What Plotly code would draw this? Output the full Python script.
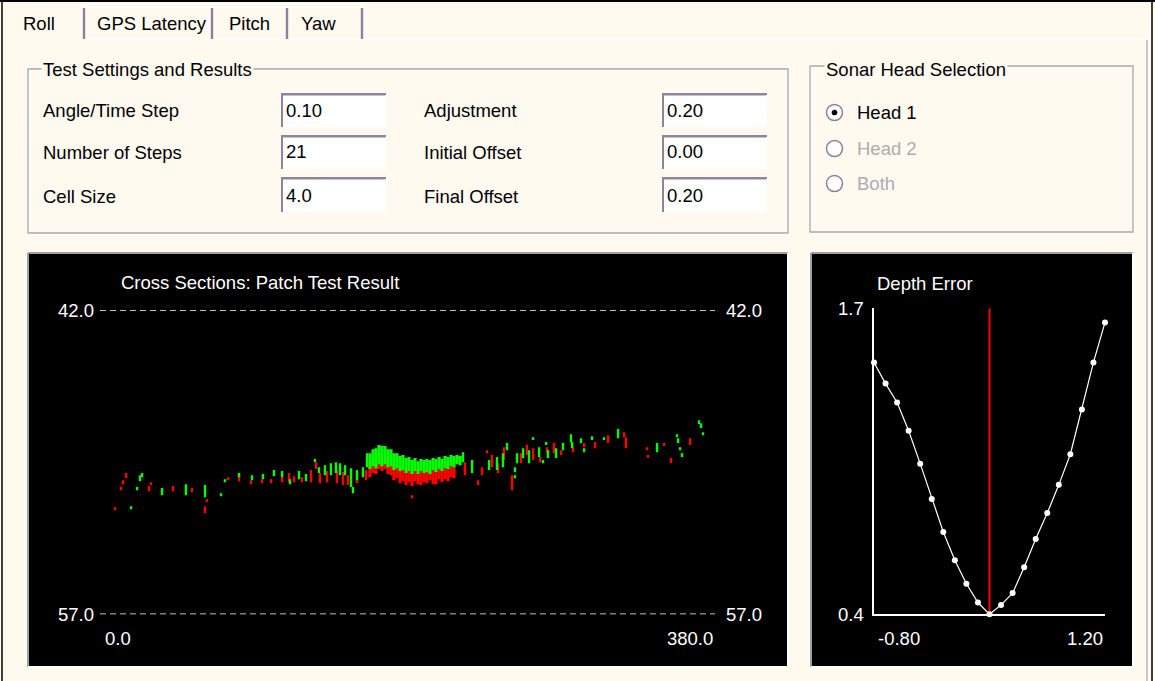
import plotly.graph_objects as go

# ---------------- data ----------------
tab_labels = ["Roll", "GPS Latency", "Pitch", "Yaw"]
settings_title = "Test Settings and Results"
setting_labels_left = ["Angle/Time Step", "Number of Steps", "Cell Size"]
setting_values_left = ["0.10", "21", "4.0"]
setting_labels_right = ["Adjustment", "Initial Offset", "Final Offset"]
setting_values_right = ["0.20", "0.00", "0.20"]
sonar_title = "Sonar Head Selection"
sonar_heads = ["Head 1", "Head 2", "Both"]
sonar_enabled = [True, False, False]
sonar_selected = [True, False, False]

cross_title = "Cross Sections: Patch Test Result"
cross_dist_range = [0.0, 380.0]      # horizontal distance
cross_depth_range = [42.0, 57.0]     # depth (top, bottom)

# cross-section soundings: short vertical strokes (distance, top depth, bottom depth)
red_x = [9.3, 13.0, 14.2, 16.1, 30.3, 31.5, 45.1, 56.8, 64.9, 66.1, 79.1, 85.9, 93.3, 100.1,
         105.7, 112.5, 116.8, 119.9, 124.8, 130.4, 133.5, 135.9, 140.3, 146.4, 150.2, 153.2,
         158.8, 164.4, 192.8, 225.5, 233.6, 236.0, 239.1, 242.2, 245.9, 249.6, 254.6, 260.1,
         263.8, 267.6, 271.9, 276.2, 280.5, 284.9, 292.3, 299.1, 305.9, 313.9, 323.8, 325.0,
         338.0, 338.6, 348.5, 352.8, 364.6]
red_top = [51.72, 50.73, 50.39, 50.04, 50.68, 50.49, 50.68, 50.78, 51.67, 51.33, 50.24, 50.04,
           50.39, 50.34, 50.34, 50.04, 50.04, 50.19, 50.24, 49.89, 49.50, 50.04, 49.94, 49.89,
           49.99, 50.14, 49.99, 49.89, 51.13, 49.50, 50.39, 49.75, 48.91, 49.15, 49.55, 48.76,
           50.14, 49.06, 48.66, 48.81, 49.25, 48.76, 48.56, 48.91, 48.76, 48.56, 48.51, 48.17,
           48.02, 48.27, 48.76, 49.15, 48.56, 49.30, 48.32]
red_bot = [51.87, 50.88, 50.59, 50.29, 50.93, 50.63, 50.93, 50.98, 52.02, 51.47, 50.39, 50.44,
           50.59, 50.54, 50.54, 50.49, 50.49, 50.49, 50.49, 50.49, 49.84, 50.54, 50.49, 50.54,
           50.63, 50.63, 50.54, 50.39, 51.28, 50.14, 50.63, 50.14, 49.06, 49.75, 50.04, 49.40,
           50.88, 49.55, 49.15, 49.40, 49.50, 49.06, 49.06, 49.15, 49.01, 48.76, 48.81, 48.56,
           48.27, 48.81, 48.91, 49.30, 48.71, 49.55, 48.66]

red_band_x = [166.8, 168.7, 170.5, 172.4, 174.2, 176.1, 177.9, 179.8, 181.6, 183.5, 185.4, 187.2,
              189.1, 190.9, 192.8, 194.6, 196.5, 198.3, 200.2, 202.0, 203.9, 205.8, 207.6, 209.5,
              211.3, 213.2, 215.0, 216.9, 218.7]
red_band_top = [49.50, 49.40, 49.30, 49.20, 49.15, 49.20, 49.30, 49.50, 49.60, 49.70, 49.75, 49.80,
                49.84, 49.89, 49.89, 49.84, 49.89, 49.89, 49.94, 49.89, 49.84, 49.89, 49.84, 49.80,
                49.84, 49.80, 49.75, 49.70, 49.70]
red_band_bot = [50.24, 50.04, 50.09, 49.84, 49.94, 49.84, 50.09, 50.14, 50.39, 50.29, 50.54, 50.44,
                50.63, 50.49, 50.68, 50.44, 50.59, 50.63, 50.49, 50.54, 50.39, 50.59, 50.59, 50.34,
                50.49, 50.34, 50.44, 50.24, 50.29]

green_x = [19.2, 22.9, 24.7, 26.0, 38.3, 53.1, 64.9, 74.8, 77.2, 85.9, 93.9, 100.7, 107.5, 112.5,
           117.4, 123.0, 127.3, 132.8, 135.3, 139.0, 142.7, 145.8, 148.3, 151.4, 155.1, 156.3,
           158.8, 162.5, 165.0, 224.3, 229.9, 240.4, 245.3, 249.0, 251.5, 256.4, 256.4, 257.7,
           261.4, 265.1, 267.6, 271.3, 273.7, 275.6, 276.8, 281.8, 286.1, 291.0, 291.7, 297.2,
           299.1, 304.0, 311.4, 320.1, 344.2, 356.5, 357.2, 358.4, 359.6, 370.1, 371.4, 372.6]
green_top = [51.67, 50.73, 50.14, 50.04, 50.78, 50.59, 50.63, 51.03, 50.34, 50.04, 50.14, 50.09,
             49.89, 49.94, 50.34, 49.94, 50.09, 49.35, 49.75, 49.65, 49.55, 49.50, 49.55, 49.65,
             49.80, 50.73, 49.89, 49.75, 49.06, 49.01, 49.40, 49.40, 49.25, 49.06, 48.56, 49.75,
             50.14, 49.06, 48.81, 48.91, 48.27, 48.76, 49.40, 48.51, 48.91, 48.81, 48.56, 48.12,
             48.51, 48.32, 48.81, 48.22, 48.27, 47.87, 48.56, 48.12, 48.32, 48.76, 49.06, 47.43,
             47.58, 48.02]
green_bot = [51.82, 50.88, 50.44, 50.24, 51.13, 51.13, 51.23, 51.18, 50.49, 50.24, 50.39, 50.34,
             50.19, 50.24, 50.59, 50.34, 50.44, 49.50, 50.04, 50.14, 50.14, 50.04, 50.14, 50.14,
             50.73, 51.03, 50.39, 50.24, 49.75, 49.50, 50.04, 49.89, 49.89, 49.75, 48.91, 49.99,
             50.29, 49.55, 49.30, 49.55, 48.41, 49.25, 49.55, 48.66, 49.30, 49.30, 48.91, 48.51,
             48.81, 48.56, 49.01, 48.41, 48.41, 48.32, 49.01, 48.27, 48.56, 48.91, 49.25, 47.62,
             47.82, 48.17]

green_band_x = [166.8, 168.7, 170.5, 172.4, 174.2, 176.1, 177.9, 179.8, 181.6, 183.5, 185.4, 187.2,
                189.1, 190.9, 192.8, 194.6, 196.5, 198.3, 200.2, 202.0, 203.9, 205.8, 207.6, 209.5,
                211.3, 213.2, 215.0, 216.9, 218.7, 220.6, 222.5]
green_band_top = [49.06, 48.86, 48.81, 48.66, 48.71, 48.71, 48.86, 48.86, 49.06, 49.06, 49.20, 49.15,
                  49.30, 49.25, 49.40, 49.30, 49.45, 49.35, 49.40, 49.35, 49.40, 49.30, 49.35, 49.25,
                  49.35, 49.20, 49.25, 49.15, 49.20, 49.15, 49.20]
green_band_bot = [49.84, 49.70, 49.80, 49.60, 49.70, 49.60, 49.75, 49.70, 49.89, 49.80, 49.94, 49.89,
                  50.04, 49.94, 50.09, 49.94, 50.09, 49.94, 50.04, 49.99, 50.09, 49.89, 49.99, 49.84,
                  49.94, 49.80, 49.84, 49.70, 49.75, 49.60, 49.65]

depth_title = "Depth Error"
depth_offsets = [-0.80, -0.70, -0.60, -0.50, -0.40, -0.30, -0.20, -0.10, 0.00, 0.10, 0.20,
                 0.30, 0.40, 0.50, 0.60, 0.70, 0.80, 0.90, 1.00, 1.10, 1.20]
depth_error = [1.47, 1.38, 1.30, 1.18, 1.04, 0.89, 0.75, 0.63, 0.53, 0.45, 0.40,
               0.44, 0.49, 0.60, 0.72, 0.83, 0.95, 1.08, 1.27, 1.47, 1.64]
best_offset = 0.20
depth_err_range = [0.4, 1.7]
depth_off_range = [-0.80, 1.20]

# ---------------- layout helpers ----------------
W, H = 1155, 681
BG = "#FEFAF0"
FONT = "Liberation Sans, Arial, sans-serif"
FS = 18.5


def fx(p):
    return p / W


def fy(p):
    return 1 - p / H


shapes = []
annotations = []


def pline(x0, y0, x1, y1, color, width=1.0, layer="below"):
    shapes.append(dict(type="line", xref="paper", yref="paper", x0=fx(x0), y0=fy(y0),
                       x1=fx(x1), y1=fy(y1), line=dict(color=color, width=width), layer=layer))


def prect(x0, y0, x1, y1, fill="rgba(0,0,0,0)", color="rgba(0,0,0,0)", width=0, layer="below"):
    shapes.append(dict(type="rect", xref="paper", yref="paper", x0=fx(x0), y0=fy(y0),
                       x1=fx(x1), y1=fy(y1), fillcolor=fill,
                       line=dict(color=color, width=width), layer=layer))


def pcircle(cx, cy, r, fill, color, width=1.0):
    shapes.append(dict(type="circle", xref="paper", yref="paper", x0=fx(cx - r), y0=fy(cy + r),
                       x1=fx(cx + r), y1=fy(cy - r), fillcolor=fill,
                       line=dict(color=color, width=width), layer="above"))


def label(s, x, y, color="#000000", xanchor="left", xref="paper", yref="paper", bg=None, size=FS):
    a = dict(text=s, x=fx(x) if xref == "paper" else x, y=fy(y) if yref == "paper" else y,
             xref=xref, yref=yref, xanchor=xanchor, yanchor="middle", showarrow=False,
             font=dict(family=FONT, size=size, color=color))
    if bg:
        a["bgcolor"] = bg
    annotations.append(a)


# ---- window frame & tabs ----
pline(0, 1, W, 1, "#000000", 2)
pline(2, 0, 2, H, "#000000", 1.5)
pline(1152, 0, 1152, H, "#000000", 1.5)
pline(1147, 40, 1147, H, "#A8A8A8", 1.2)
pline(84, 39, 1147, 39, "#FFFFFF", 1.5)
pline(84, 7, 362, 7, "#FFFFFF", 1.5)

tab_text_x = [21, 95, 227, 299]
tab_sep_x = [84, 212, 287, 362]
for t, tx in zip(tab_labels, tab_text_x):
    label(t, tx, 23)
for sx in tab_sep_x:
    pline(sx, 8, sx, 39, "#8F7F9E", 2.4)

# ---- group boxes ----
for (x0, y0, x1, y1) in [(28, 69, 788, 233), (810, 66, 1133, 232)]:
    prect(x0 + 1, y0 + 1, x1 + 1, y1 + 1, color="#FFFFFF", width=1)
    prect(x0, y0, x1, y1, color="#A9A9A9", width=1.3)
label(settings_title, 41, 69, bg=BG)
label(sonar_title, 824, 69, bg=BG)

# ---- settings fields ----
row_y = [111, 153, 196]
box_rows = [(93, 127), (135, 169), (177, 212)]
for col_label_x, col_box_x, labels, values in [
        (41, 281, setting_labels_left, setting_values_left),
        (422, 662, setting_labels_right, setting_values_right)]:
    for lab, val, ly, (by0, by1) in zip(labels, values, row_y, box_rows):
        label(lab, col_label_x, ly)
        bx0, bx1 = col_box_x, col_box_x + 105
        prect(bx0, by0, bx1, by1, fill="#FFFFFF")
        pline(bx0, by0 + 1, bx1, by0 + 1, "#8E8698", 2)
        pline(bx0 + 1, by0, bx0 + 1, by1, "#8E8698", 2)
        pline(bx0 + 2, by0 + 2.5, bx1 - 1, by0 + 2.5, "#C9C2CF", 1)
        label(val, bx0 + 3, ly - 1)

# ---- sonar radios ----
radio_y = [112.5, 148.5, 183.5]
for name, en, sel, ry in zip(sonar_heads, sonar_enabled, sonar_selected, radio_y):
    pcircle(834.5, ry, 8, "#FFFFFF", "#8C7E9A", 1.5)
    if sel:
        pcircle(834.5, ry, 2.6, "#000000", "#000000", 0.5)
    label(name, 855, ry, color="#000000" if en else "#ADADAD")

# ---- chart panels (sunken black) ----
for (x0, y0, x1, y1) in [(28, 253, 788, 667), (811, 253, 1133, 667)]:
    prect(x0, y0, x1, y1, fill="#000000")
    pline(x0, y0, x1, y0, "#A0A0A0", 2)
    pline(x0, y0, x0, y1, "#A0A0A0", 2)
    pline(x0, y1, x1, y1, "#FFFFFF", 2)
    pline(x1, y0, x1, y1, "#FFFFFF", 2)

# dashed depth limits of the cross-section view
for d in cross_depth_range:
    shapes.append(dict(type="line", xref="x", yref="y", x0=cross_dist_range[0], x1=cross_dist_range[1],
                       y0=d, y1=d, line=dict(color="#FFFFFF", width=1.5, dash="6px,4px"), layer="above"))

# cross-section texts
label(cross_title, 119, 282, color="#FFFFFF")
for d in cross_depth_range:
    label(f"{d:.1f}", 96, d, color="#FFFFFF", xanchor="right", yref="y")
    label(f"{d:.1f}", 724, d, color="#FFFFFF", xanchor="left", yref="y")
label(f"{cross_dist_range[0]:.1f}", cross_dist_range[0], 638, color="#FFFFFF", xref="x")
annotations[-1]["xshift"] = 3
label(f"{cross_dist_range[1]:.1f}", cross_dist_range[1], 638, color="#FFFFFF", xanchor="right", xref="x")

# depth error texts
label(depth_title, 875, 283, color="#FFFFFF")
for v in depth_err_range:
    label(f"{v:.1f}", 866, v, color="#FFFFFF", xanchor="right", yref="y2")
label(f"{depth_off_range[0]:.2f}", depth_off_range[0], 638, color="#FFFFFF", xref="x2")
annotations[-1]["xshift"] = 2
label(f"{depth_off_range[1]:.2f}", depth_off_range[1], 638, color="#FFFFFF", xanchor="right", xref="x2")


# ---------------- traces ----------------
def strokes(xs, tops, bots):
    X, Y = [], []
    for x, t, b in zip(xs, tops, bots):
        X += [x, x, None]
        Y += [t, b, None]
    return X, Y


fig = go.Figure()
for xs, ts, bs, col, w in [
        (red_x, red_top, red_bot, "#FF0000", 2.4),
        (red_band_x, red_band_top, red_band_bot, "#FF0000", 3.2),
        (green_x, green_top, green_bot, "#00FF00", 2.4),
        (green_band_x, green_band_top, green_band_bot, "#00FF00", 3.2)]:
    X, Y = strokes(xs, ts, bs)
    fig.add_trace(go.Scatter(x=X, y=Y, mode="lines", line=dict(color=col, width=w),
                             xaxis="x", yaxis="y", hoverinfo="skip", showlegend=False))

fig.add_trace(go.Scatter(x=[best_offset, best_offset], y=depth_err_range, mode="lines",
                         line=dict(color="#FF0000", width=2), xaxis="x2", yaxis="y2",
                         hoverinfo="skip", showlegend=False, cliponaxis=False))
fig.add_trace(go.Scatter(x=depth_offsets, y=depth_error, mode="lines+markers",
                         line=dict(color="#FFFFFF", width=1.2),
                         marker=dict(color="#FFFFFF", size=6, line=dict(width=0)),
                         xaxis="x2", yaxis="y2", hoverinfo="skip", showlegend=False,
                         cliponaxis=False))

hidden = dict(showgrid=False, zeroline=False, showticklabels=False, ticks="", showline=False)
fig.update_layout(
    width=W, height=H, margin=dict(l=0, r=0, t=0, b=0, pad=0),
    paper_bgcolor=BG, plot_bgcolor="rgba(0,0,0,0)", showlegend=False,
    font=dict(family=FONT, size=FS),
    xaxis=dict(domain=[fx(100), fx(715)], range=cross_dist_range, anchor="y", **hidden),
    yaxis=dict(domain=[fy(614.3), fy(310)], range=cross_depth_range[::-1], anchor="x", **hidden),
    xaxis2=dict(domain=[fx(874), fx(1105)], range=depth_off_range, anchor="y2",
                showgrid=False, zeroline=False, showticklabels=False, ticks="",
                showline=True, linecolor="#FFFFFF", linewidth=1.5),
    yaxis2=dict(domain=[fy(614.3), fy(308.3)], range=depth_err_range, anchor="x2",
                showgrid=False, zeroline=False, showticklabels=False, ticks="",
                showline=True, linecolor="#FFFFFF", linewidth=1.5),
    shapes=shapes, annotations=annotations,
)

fig.write_html("out.html", config={"displayModeBar": False},
               post_script="document.body.style.margin='0';document.body.style.overflow='hidden';")
